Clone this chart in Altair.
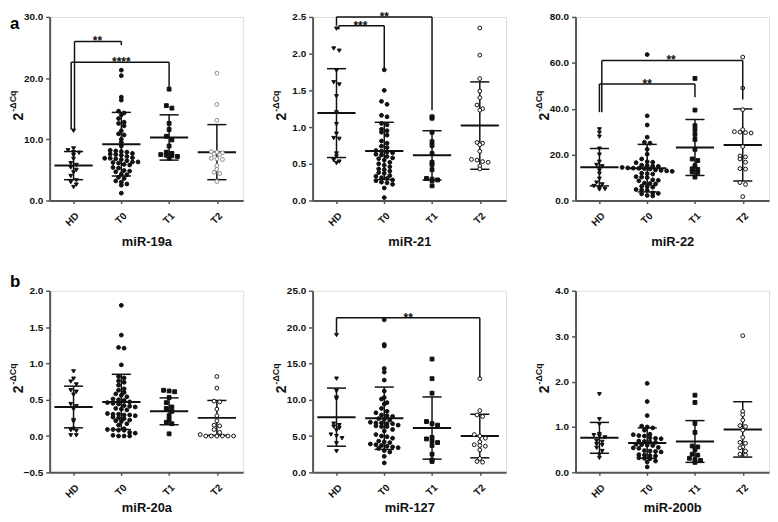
import json
import altair as alt
import pandas as pd

GROUPS = ["HD", "T0", "T1", "T2"]
SHAPES = ["triangle-down", "circle", "square", "circle"]

# ---------------- miR-19a ----------------
mir19a_HD = [11.4, 8.5, 8.2, 7.9, 7.8, 7.4, 6.8, 6.1, 5.8, 5.4, 5.0, 4.6, 4.0, 3.3, 3.0, 2.6, 2.2]
mir19a_T0 = [21.3, 20.4, 16.9, 16.4, 14.6, 14.3, 14.0, 13.4, 12.8, 12.6, 12.2, 11.4, 10.9, 10.7, 10.0,
             9.5, 8.9, 8.2, 8.1, 8.0, 7.9, 7.7, 7.6, 7.5, 7.4, 7.2, 7.0, 6.9, 6.9, 6.8, 6.7, 6.5, 6.3,
             6.3, 6.2, 6.1, 5.9, 5.8, 5.4, 5.3, 4.9, 4.8, 4.7, 4.3, 4.2, 3.8, 3.6, 3.2, 3.0, 2.7, 2.5, 1.2]
mir19a_T1 = [18.2, 15.5, 15.1, 12.6, 11.6, 10.5, 9.9, 8.9, 7.9, 7.7, 7.5, 7.4, 7.3, 7.2, 6.9]
mir19a_T2 = [20.8, 15.7, 13.1, 8.0, 7.9, 7.8, 7.6, 7.5, 6.9, 6.8, 6.7, 5.7, 5.1, 4.6, 4.4, 3.1]
mir19a_mean = [5.7, 9.2, 10.3, 7.9]
mir19a_sd = [2.3, 5.2, 3.7, 4.5]
mir19a_sig = [(0, 1, 26.0, 11.6, 25.4, "**", 0.02), (0, 2, 22.6, 11.6, 18.2, "****", -0.05)]

# ---------------- miR-21 ----------------
mir21_HD = [2.34, 2.07, 2.04, 1.77, 1.61, 1.58, 1.42, 1.20, 1.04, 0.91, 0.85, 0.84, 0.64, 0.60, 0.55, 0.53, 0.51]
mir21_T0 = [1.78, 1.50, 1.35, 1.31, 1.16, 1.14, 1.05, 1.03, 0.97, 0.95, 0.93, 0.89, 0.81, 0.78, 0.74, 0.72,
            0.68, 0.67, 0.66, 0.65, 0.63, 0.62, 0.60, 0.58, 0.57, 0.55, 0.52, 0.50, 0.48, 0.46, 0.43, 0.42,
            0.40, 0.38, 0.37, 0.34, 0.33, 0.31, 0.30, 0.28, 0.27, 0.25, 0.24, 0.22, 0.17, 0.04]
mir21_T1 = [1.14, 1.12, 0.93, 0.80, 0.75, 0.64, 0.52, 0.49, 0.42, 0.30, 0.29, 0.28, 0.27, 0.20]
mir21_T2 = [2.35, 1.98, 1.66, 1.49, 1.40, 1.30, 1.25, 1.23, 0.79, 0.78, 0.76, 0.67, 0.56, 0.55, 0.53, 0.52, 0.47, 0.43]
mir21_mean = [1.19, 0.675, 0.615, 1.02]
mir21_sd = [0.605, 0.39, 0.335, 0.595]
mir21_sig = [(0, 2, 2.5, 2.38, 1.23, "**", 0.0), (0, 1, 2.38, 2.33, 1.80, "***", 0.05)]

# ---------------- miR-22 ----------------
mir22_HD = [31.0, 29.5, 27.8, 22.6, 20.0, 16.9, 15.5, 14.9, 13.1, 11.7, 9.5, 7.8, 7.0, 6.3, 5.5, 5.0, 4.8]
mir22_T0 = [63.6, 36.9, 32.9, 27.6, 25.4, 25.0, 22.3, 20.2, 18.1, 16.9, 16.7, 16.5, 15.4, 15.2, 15.0, 14.9,
            14.4, 14.2, 14.1, 14.0, 13.9, 13.7, 13.3, 13.1, 12.9, 12.7, 11.9, 11.7, 11.5, 10.4, 10.2, 10.0,
            9.0, 8.8, 8.6, 7.6, 7.4, 7.2, 6.2, 6.0, 5.8, 4.8, 4.6, 4.4, 3.3, 3.1, 2.9, 2.2, 2.0]
mir22_T1 = [53.2, 39.4, 32.6, 30.9, 28.8, 26.6, 22.3, 18.1, 17.4, 15.2, 13.8, 13.6, 12.4, 12.2, 10.2]
mir22_T2 = [62.5, 49.0, 39.6, 30.9, 30.0, 29.8, 29.6, 29.4, 23.5, 19.4, 19.0, 18.1, 16.7, 13.9, 13.7, 7.8, 7.0, 1.7]
mir22_mean = [14.5, 14.1, 23.1, 24.2]
mir22_sd = [8.15, 10.35, 12.2, 15.7]
mir22_sig = [(0, 3, 61.0, 38.5, 44.0, "**", 0.05), (0, 2, 50.8, 38.5, 45.0, "**", 0.0)]

# ---------------- miR-20a ----------------
mir20a_HD = [0.89, 0.79, 0.75, 0.71, 0.63, 0.61, 0.57, 0.44, 0.41, 0.37, 0.22, 0.20, 0.10, 0.08, 0.07, 0.01, 0.01]
mir20a_T0 = [1.80, 1.39, 1.22, 1.21, 0.98, 0.82, 0.80, 0.76, 0.74, 0.70, 0.65, 0.63, 0.60, 0.58, 0.56, 0.54,
             0.51, 0.50, 0.49, 0.47, 0.46, 0.45, 0.44, 0.42, 0.41, 0.40, 0.38, 0.37, 0.36, 0.31, 0.30, 0.30,
             0.29, 0.29, 0.28, 0.26, 0.25, 0.24, 0.22, 0.21, 0.20, 0.17, 0.15, 0.10, 0.09, 0.09, 0.08, 0.08,
             0.05, 0.04, 0.01, 0.0, 0.0, 0.0]
mir20a_T1 = [0.63, 0.62, 0.61, 0.53, 0.46, 0.40, 0.38, 0.34, 0.28, 0.23, 0.19, 0.17, 0.03]
mir20a_T2 = [0.82, 0.66, 0.48, 0.47, 0.37, 0.28, 0.21, 0.15, 0.14, 0.09, 0.05, 0.02, 0.0, 0.0, 0.0, 0.0, 0.0, 0.0]
mir20a_mean = [0.40, 0.47, 0.34, 0.25]
mir20a_sd = [0.287, 0.38, 0.185, 0.24]
mir20a_sig = []

# ---------------- miR-127 ----------------
mir127_HD = [18.9, 12.9, 11.2, 10.3, 10.1, 6.7, 6.5, 6.3, 6.1, 5.8, 5.2, 5.0, 4.7, 4.0, 2.9]
mir127_T0 = [21.0, 17.6, 17.4, 14.3, 13.8, 12.7, 11.2, 10.3, 10.1, 9.6, 9.4, 8.8, 8.4, 8.2, 7.9, 7.8, 7.7,
             7.4, 7.3, 7.2, 6.9, 6.8, 6.8, 6.7, 6.7, 6.5, 6.4, 6.3, 6.3, 5.9, 5.7, 5.2, 5.0, 4.9, 4.7, 4.3,
             4.2, 4.1, 3.9, 3.8, 3.7, 3.6, 3.5, 3.4, 3.3, 3.0, 2.8, 2.2, 1.3]
mir127_T1 = [15.6, 12.9, 10.9, 7.0, 6.7, 6.5, 4.8, 4.6, 4.3, 4.1, 3.7, 2.5, 1.7, 1.5]
mir127_T2 = [12.9, 8.5, 7.9, 7.7, 5.2, 5.0, 4.7, 4.2, 3.8, 3.7, 3.6, 3.1, 1.9, 1.5, 1.4]
mir127_mean = [7.6, 7.45, 6.1, 5.0]
mir127_sd = [4.0, 4.29, 4.28, 3.0]
mir127_sig = [(0, 3, 21.3, 19.2, 13.1, "**", 0.0)]

# ---------------- miR-200b ----------------
mir200b_HD = [1.72, 1.17, 1.06, 0.84, 0.82, 0.80, 0.77, 0.69, 0.67, 0.62, 0.60, 0.54, 0.47, 0.39, 0.32]
mir200b_T0 = [1.96, 1.56, 1.25, 1.02, 1.00, 0.98, 0.93, 0.84, 0.83, 0.81, 0.80, 0.76, 0.75, 0.74, 0.69,
              0.68, 0.67, 0.66, 0.62, 0.61, 0.60, 0.59, 0.55, 0.54, 0.53, 0.48, 0.47, 0.46, 0.45, 0.39,
              0.38, 0.37, 0.36, 0.32, 0.31, 0.30, 0.25, 0.23, 0.12]
mir200b_T1 = [1.70, 1.54, 1.08, 0.88, 0.58, 0.56, 0.50, 0.40, 0.38, 0.31, 0.28, 0.26, 0.22]
mir200b_T2 = [3.01, 1.34, 1.27, 1.15, 1.03, 1.01, 0.93, 0.77, 0.66, 0.64, 0.56, 0.54, 0.47, 0.40, 0.38]
mir200b_mean = [0.76, 0.645, 0.68, 0.946]
mir200b_sd = [0.34, 0.335, 0.46, 0.61]
mir200b_sig = []

# ---------------- layout / style ----------------
W = 195
XDOM = [-0.5, 3.55]
FONT = "Liberation Sans"
INK = "#111111"
AXC = "#555555"
letter_y = {"a": 12, "b": -4}


def swarm(vals, ppu, step, rowpx=4.5):
    order = sorted(range(len(vals)), key=lambda i: -vals[i])
    rows = {}
    for i in order:
        key = int(round(vals[i] * ppu / rowpx))
        rows.setdefault(key, []).append(i)
    off = [0.0] * len(vals)
    for idxs in rows.values():
        k = len(idxs)
        for j, i in enumerate(idxs):
            off[i] = (j - (k - 1) / 2) * step
    return off


def make_panel(title, ydom, yticks, pts, means, sds, sig, H, tpad, letter=None, t2_stroke=INK):
    ppu = H / (ydom[1] - ydom[0])
    step = 5.6 / (W / (XDOM[1] - XDOM[0]))
    rows = []
    for gi, (g, vals) in enumerate(zip(GROUPS, pts)):
        for v, o in zip(vals, swarm(vals, ppu, step)):
            rows.append({"grp": g, "x": gi + o, "v": v})
    pdf = pd.DataFrame(rows)

    st = pd.DataFrame({"grp": GROUPS, "i": list(range(4)), "mean": means, "sd": sds})
    st["lo"] = st["mean"] - st["sd"]
    st["hi"] = st["mean"] + st["sd"]
    st["ml"] = st["i"] - 0.4
    st["mr"] = st["i"] + 0.4
    st["cl"] = st["i"] - 0.2
    st["cr"] = st["i"] + 0.2

    xs = alt.Scale(domain=XDOM, nice=False, zero=False)
    ys = alt.Scale(domain=ydom, nice=False, zero=False)
    xaxis = alt.Axis(values=[0, 1, 2, 3], labelExpr=json.dumps(GROUPS) + "[datum.value]",
                     labelAngle=-45, labelAlign="right", labelBaseline="top",
                     title=title, titleFontSize=13, titleFontWeight="bold", titlePadding=tpad,
                     titleColor=INK, labelColor=INK, labelFontSize=10, labelFontWeight="bold",
                     labelPadding=7, tickSize=3, tickWidth=1.5, tickColor=AXC,
                     domainColor=AXC, domainWidth=2, grid=False, labelFont=FONT, titleFont=FONT)
    yaxis = alt.Axis(values=yticks, format=".1f", title=None, labelFontSize=10, labelFontWeight="bold",
                     labelColor=INK, tickSize=4, tickWidth=1.5, tickColor=AXC, domainColor=AXC,
                     domainWidth=2, grid=False, labelFont=FONT, labelPadding=3)

    def X(f):
        return alt.X(f, type="quantitative", scale=xs, axis=xaxis)

    def Y(f):
        return alt.Y(f, type="quantitative", scale=ys, axis=yaxis)

    pts_layer = alt.Chart(pdf).mark_point(filled=True, size=15, strokeWidth=1, opacity=1).encode(
        x=X("x"), y=Y("v"),
        shape=alt.Shape("grp:N", scale=alt.Scale(domain=GROUPS, range=SHAPES), legend=None),
        fill=alt.Fill("grp:N", scale=alt.Scale(domain=GROUPS, range=[INK, INK, INK, "white"]), legend=None),
        stroke=alt.Stroke("grp:N", scale=alt.Scale(domain=GROUPS, range=[INK, INK, INK, t2_stroke]), legend=None),
    )
    sd_line = alt.Chart(st).mark_rule(color=INK, strokeWidth=1.5).encode(x=X("i"), y=Y("lo"), y2="hi")
    cap_lo = alt.Chart(st).mark_rule(color=INK, strokeWidth=1.5).encode(x=X("cl"), x2="cr", y=Y("lo"))
    cap_hi = alt.Chart(st).mark_rule(color=INK, strokeWidth=1.5).encode(x=X("cl"), x2="cr", y=Y("hi"))
    mean_line = alt.Chart(st).mark_rule(color=INK, strokeWidth=2).encode(x=X("ml"), x2="mr", y=Y("mean"))
    layers = [sd_line, cap_lo, cap_hi, mean_line, pts_layer]

    if sig:
        seg, lab = [], []
        for a, b, lvl, lend, rend, txt, dx in sig:
            seg.append({"xa": a + dx, "xb": b, "ya": lvl, "yb": lvl})
            seg.append({"xa": a + dx, "xb": a + dx, "ya": lvl, "yb": lend})
            seg.append({"xa": b, "xb": b, "ya": lvl, "yb": rend})
            lab.append({"xm": (a + b) / 2, "lvl": lvl, "t": txt})
        layers.append(alt.Chart(pd.DataFrame(seg)).mark_rule(color=INK, strokeWidth=1.5).encode(
            x=X("xa"), x2="xb", y=Y("ya"), y2="yb"))
        layers.append(alt.Chart(pd.DataFrame(lab)).mark_text(
            font=FONT, fontSize=12, fontWeight="bold", color=INK, baseline="alphabetic", dy=4).encode(
            x=X("xm"), y=Y("lvl"), text="t:N"))

    # y title: 2^-ΔCq
    layers.append(alt.Chart(pd.DataFrame({"t": ["2"]})).mark_text(
        angle=270, font=FONT, fontSize=14, fontWeight="bold", color=INK, align="center",
        baseline="middle").encode(x=alt.value(-31), y=alt.value(H / 2 + 8), text="t:N"))
    layers.append(alt.Chart(pd.DataFrame({"t": ["-\u0394Cq"]})).mark_text(
        angle=270, font=FONT, fontSize=9, fontWeight="bold", color=INK, align="left",
        baseline="middle").encode(x=alt.value(-37), y=alt.value(H / 2 + 3), text="t:N"))
    if letter:
        layers.append(alt.Chart(pd.DataFrame({"t": [letter]})).mark_text(
            font=FONT, fontSize=17, fontWeight="bold", color="black", align="left",
            baseline="alphabetic").encode(x=alt.value(-40), y=alt.value(letter_y[letter]), text="t:N"))

    return alt.layer(*layers).properties(width=W, height=H)


H1, H2 = 185, 183
p1 = make_panel("miR-19a", [0, 30], [0, 10, 20, 30],
                [mir19a_HD, mir19a_T0, mir19a_T1, mir19a_T2], mir19a_mean, mir19a_sd, mir19a_sig,
                H1, 8, letter="a", t2_stroke="#8a8a8a")
p2 = make_panel("miR-21", [0, 2.5], [0, 0.5, 1.0, 1.5, 2.0, 2.5],
                [mir21_HD, mir21_T0, mir21_T1, mir21_T2], mir21_mean, mir21_sd, mir21_sig, H1, 8)
p3 = make_panel("miR-22", [0, 80], [0, 20, 40, 60, 80],
                [mir22_HD, mir22_T0, mir22_T1, mir22_T2], mir22_mean, mir22_sd, mir22_sig, H1, 8)
p4 = make_panel("miR-20a", [-0.5, 2.0], [-0.5, 0.0, 0.5, 1.0, 1.5, 2.0],
                [mir20a_HD, mir20a_T0, mir20a_T1, mir20a_T2], mir20a_mean, mir20a_sd, mir20a_sig,
                H2, 2, letter="b")
p5 = make_panel("miR-127", [0, 25], [0, 5, 10, 15, 20, 25],
                [mir127_HD, mir127_T0, mir127_T1, mir127_T2], mir127_mean, mir127_sd, mir127_sig, H2, 2)
p6 = make_panel("miR-200b", [0, 4], [0, 1, 2, 3, 4],
                [mir200b_HD, mir200b_T0, mir200b_T1, mir200b_T2], mir200b_mean, mir200b_sd, mir200b_sig,
                H2, 2)

indep = dict(x="independent", y="independent", shape="independent", fill="independent", stroke="independent")
row1 = alt.hconcat(p1, p2, p3, spacing=27).resolve_scale(**indep)
row2 = alt.hconcat(p4, p5, p6, spacing=27).resolve_scale(**indep)

chart = (alt.vconcat(row1, row2, spacing=23)
         .resolve_scale(**indep)
         .properties(padding=0)
         .configure_view(stroke=None)
         .configure(background="white"))

chart.save("out.html", embed_options={"renderer": "svg", "actions": False})
